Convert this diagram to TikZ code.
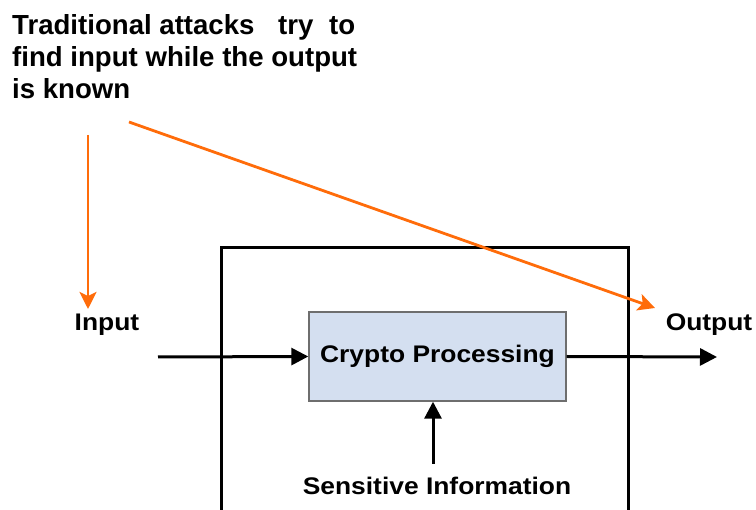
\documentclass[tikz,border=0pt]{standalone}
\usepackage{fontspec}
\setmainfont{Liberation Sans}
\newfontfamily\labelfont[FakeStretch=1.1]{Liberation Sans}
\usetikzlibrary{arrows.meta,positioning}

\definecolor{attackorange}{RGB}{255,108,10}
\definecolor{procblue}{RGB}{212,223,240}
\definecolor{procgray}{RGB}{110,110,110}

\tikzset{
  label text/.style={font=\labelfont\bfseries\fontsize{24}{28}\selectfont,inner sep=0pt},
  flow/.style={line width=3pt,-{Triangle[length=17pt,width=17pt]}},
  attack/.style={attackorange,line width=2.8pt,-{Stealth[length=17pt,width=17pt,inset=4pt]}},
}

\begin{document}
\begin{tikzpicture}[x=1pt,y=-1pt]
    \useasboundingbox (0,0) rectangle (756,510);
    % device boundary, runs off the bottom edge
    \draw[line width=3pt] (221,520) -- (221,248) -- (628,248) -- (628,520);
    \node[label text,draw=procgray,line width=1.4pt,fill=procblue,
          minimum width=257pt,minimum height=89pt] (crypto) at (437.5,356.5) {Crypto Processing};
    \node[label text] (input) at (107,325) {Input};
    \node[label text] (output) at (709,325) {Output};
    \node[label text] (sens) at (437,486) {Sensitive Information};
    \node[font=\bfseries\fontsize{27.6}{32}\selectfont,inner sep=0pt,align=left,anchor=north west]
        (attacks) at (12,14) {Traditional attacks\hspace{16pt} try\hspace{8pt} to\\find input while the output\\is known};
    \coordinate (in) at (158,357);
    \coordinate (out) at (717,357);
    \coordinate (sensin) at (433,464);
    \coordinate (att1) at (88,135);
    \coordinate (att2) at (129,122);
    \coordinate (attin) at (88,309);
    \coordinate (attout) at (655,308);
    % data path through the processing block
    \draw[flow] (in) -- (crypto.west);
    \draw[flow] (crypto.east) -- (out);
    \draw[flow] (sensin) -- (crypto.south -| sensin);
    % what the attacker looks at
    \draw[attack] (att1) -- (attin);
    \draw[attack] (att2) -- (attout);
\end{tikzpicture}
\end{document}
